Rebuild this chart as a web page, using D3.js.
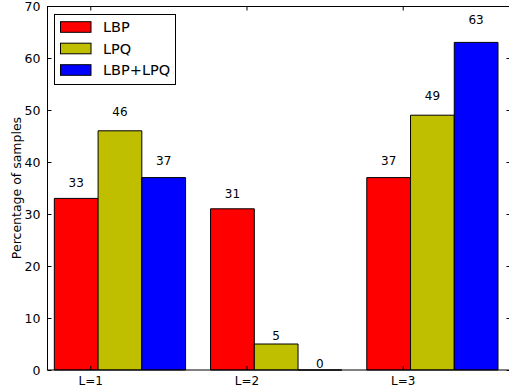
<!DOCTYPE html>
<html>
<head>
<meta charset="utf-8">
<script src="https://cdn.jsdelivr.net/npm/d3@7"></script>
<style>
  html, body { margin: 0; padding: 0; background: #fff; }
  svg { display: block; font-family: "DejaVu Sans", sans-serif; }
</style>
</head>
<body>
<svg id="chart" width="509" height="390"></svg>
<script>
// Share of samples per level, for each descriptor
const categories = ["L=1", "L=2", "L=3"];
const seriesNames = ["LBP", "LPQ", "LBP+LPQ"];
const lbpValues = [33, 31, 37];
const lpqValues = [46, 5, 49];
const combinedValues = [37, 0, 63];
const yTicks = [0, 10, 20, 30, 40, 50, 60, 70];

const seriesValues = [lbpValues, lpqValues, combinedValues];
const colors = ["#ff0000", "#bfbf00", "#0000ff"];

const svg = d3.select("#chart");
const plot = { left: 47, top: 6, bottom: 370, right: 510.5 };

// bar layout in index units: each group starts at its index, bars side by side
const barWidth = 0.28;
const tickOffset = 0.23;

const x = d3.scaleLinear().domain([-0.047, 2.92]).range([plot.left, plot.right]);
const y = d3.scaleLinear().domain([0, 70]).range([plot.bottom, plot.top]);

// bars drawn as closed paths so that a zero-height bar still shows its edge
function barPath(d, i, s) {
  const p = d3.path();
  const x0 = x(i + s * barWidth), x1 = x(i + (s + 1) * barWidth);
  p.moveTo(x0, y(0));
  p.lineTo(x0, y(d));
  p.lineTo(x1, y(d));
  p.lineTo(x1, y(0));
  p.closePath();
  return p.toString();
}
seriesValues.forEach((vals, s) => {
  svg.append("g").selectAll("path")
    .data(vals)
    .join("path")
    .attr("d", (d, i) => barPath(d, i, s))
    .attr("fill", colors[s])
    .attr("stroke", "#000")
    .attr("stroke-width", 1);
});

// value labels above bars
seriesValues.forEach((vals, s) => {
  svg.append("g").selectAll("text")
    .data(vals)
    .join("text")
    .attr("x", (d, i) => x(i + s * barWidth + barWidth / 2))
    .attr("y", d => y(d * 1.05) - 2.5)
    .attr("text-anchor", "middle")
    .attr("font-size", 12)
    .attr("fill", "#000")
    .text(d => d);
});

// frame
const frame = svg.append("g").attr("fill", "none").attr("stroke", "#000").attr("stroke-width", 1);
frame.append("line").attr("x1", plot.left).attr("x2", plot.right).attr("y1", plot.top + 0.5).attr("y2", plot.top + 0.5);
frame.append("line").attr("x1", plot.left).attr("x2", plot.right).attr("y1", plot.bottom).attr("y2", plot.bottom);
frame.append("line").attr("x1", plot.left + 0.5).attr("x2", plot.left + 0.5).attr("y1", plot.top).attr("y2", plot.bottom);
frame.append("line").attr("x1", plot.right).attr("x2", plot.right).attr("y1", plot.top).attr("y2", plot.bottom);

// y axis: inward ticks on left and right
const yAxisL = d3.axisLeft(y).tickValues(yTicks).tickSize(-4).tickPadding(7).tickSizeOuter(0);
const gy = svg.append("g").attr("transform", `translate(${plot.left + 0.5},0)`).call(yAxisL);
gy.select(".domain").remove();
gy.selectAll("text").attr("font-size", 12.5).attr("font-family", "DejaVu Sans");
const yAxisR = d3.axisRight(y).tickValues(yTicks).tickSize(-4).tickFormat("").tickSizeOuter(0);
svg.append("g").attr("transform", `translate(${plot.right},0)`).call(yAxisR).select(".domain").remove();

// x axis: category ticks, inward on bottom and top
const tickPos = categories.map((c, i) => i + tickOffset);
const xAxisB = d3.axisBottom(x).tickValues(tickPos).tickSize(-4).tickPadding(6)
  .tickFormat((d, i) => categories[i]).tickSizeOuter(0);
const gx = svg.append("g").attr("transform", `translate(0,${plot.bottom})`).call(xAxisB);
gx.select(".domain").remove();
gx.selectAll("text").attr("font-size", 12).attr("font-family", "DejaVu Sans");
const xAxisT = d3.axisTop(x).tickValues(tickPos).tickSize(-4).tickFormat("").tickSizeOuter(0);
svg.append("g").attr("transform", `translate(0,${plot.top + 0.5})`).call(xAxisT).select(".domain").remove();

// y axis title
svg.append("text")
  .attr("transform", `translate(16,${(plot.top + plot.bottom) / 2}) rotate(-90)`)
  .attr("text-anchor", "middle")
  .attr("dominant-baseline", "central")
  .attr("font-size", 12.5)
  .text("Percentage of samples");

// legend
const legend = svg.append("g").attr("transform", "translate(54.5,14.5)");
legend.append("rect").attr("width", 121).attr("height", 70)
  .attr("fill", "#fff").attr("stroke", "#000").attr("stroke-width", 1);
const rows = legend.selectAll("g.row").data(seriesNames).join("g")
  .attr("class", "row")
  .attr("transform", (d, i) => `translate(0,${12.5 + i * 21.5})`);
rows.append("rect").attr("x", 6).attr("y", -5.3).attr("width", 30.5).attr("height", 10.6)
  .attr("fill", (d, i) => colors[i]).attr("stroke", "#000").attr("stroke-width", 1);
rows.append("text").attr("x", 48.5).attr("y", 0)
  .attr("dominant-baseline", "central")
  .attr("font-size", 14.5)
  .text(d => d);
</script>
</body>
</html>
